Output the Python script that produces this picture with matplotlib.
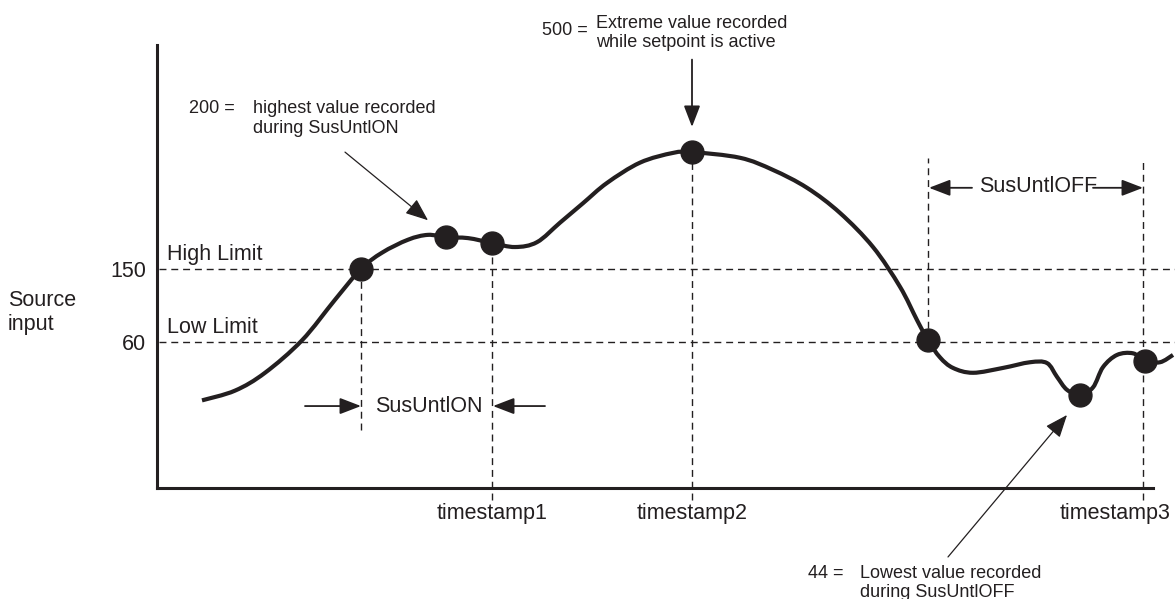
import numpy as np
import matplotlib
matplotlib.use('Agg')
import matplotlib.pyplot as plt
from matplotlib.path import Path
from matplotlib.patches import PathPatch
from matplotlib.transforms import ScaledTranslation

plt.rcParams['font.family'] = ['Liberation Sans', 'DejaVu Sans']

INK = '#231f20'
BIG = 15.5
SMALL = 13

# source input trace (time, value)
curve_t = [202, 235, 265, 302, 335, 361, 382, 408, 428, 446, 468, 492,
           515, 537, 560, 583, 607, 640, 673, 692, 740, 773, 807, 840, 873,
           900, 917, 928, 940, 953, 973, 1003, 1030, 1047, 1057, 1067, 1080, 1093,
           1103, 1117, 1133, 1145, 1160, 1173]
curve_v = [-12, 0, 22, 62, 112, 150, 170, 186, 192, 189, 188, 182,
           177, 183, 207, 231, 256, 281, 293, 294, 287, 272, 250, 219, 177,
           128, 87, 62, 41, 28, 22, 28, 35, 34, 17, 1, -5, 4,
           29, 44, 46, 37, 35, 44]

# recorded points
dot_t = [361, 446, 492, 692, 928, 1080, 1145]
dot_v = [150, 189, 182, 294, 62, -5, 37]

# limits
limit_v = [150, 60]
limit_names = ['High Limit', 'Low Limit']

# vertical markers
vline_t = [361, 492, 692, 928, 1143]
vline_lo = [-48, -135, -135, 62, -135]
vline_hi = [150, 182, 294, 287, 287]

stamp_t = [492, 692, 1143]
stamp_names = ['timestamp1', 'timestamp2', 'timestamp3']

fig = plt.figure(figsize=(11.75, 5.99), dpi=100)
ax = fig.add_axes([157 / 1175, 111 / 599, 1018 / 1175, 443 / 599])
ax.set_xlim(157, 1175)
ax.set_ylim(-120, 426)

for s in ['top', 'right']:
    ax.spines[s].set_visible(False)
for s in ['left', 'bottom']:
    ax.spines[s].set_linewidth(2.2)
    ax.spines[s].set_color(INK)
ax.spines['bottom'].set_bounds(157, 1153)

ax.set_yticks(limit_v)
ax.set_yticklabels([str(v) for v in limit_v])
ax.set_xticks(stamp_t)
ax.set_xticklabels(stamp_names)
ax.tick_params(length=0, labelsize=BIG, labelcolor=INK)
ax.tick_params(axis='y', pad=8)
ax.tick_params(axis='x', pad=11)
lbl = ax.get_xticklabels()[2]
lbl.set_transform(lbl.get_transform() + ScaledTranslation(-0.28, 0, fig.dpi_scale_trans))

# dashed guides
dash = dict(color=INK, lw=1.0, linestyle=(0, (5, 3.5)))
ax.hlines(limit_v, 159, 1175, clip_on=False, **dash)
ax.vlines(vline_t, vline_lo, vline_hi, clip_on=False, **dash)

for v, name in zip(limit_v, limit_names):
    ax.text(167, v + 11, name, fontsize=BIG, color=INK, va='baseline')

# smooth curve through the read points (catmull-rom as bezier segments)
P = np.column_stack([curve_t, curve_v]).astype(float)
verts = [P[0]]
codes = [Path.MOVETO]
for i in range(len(P) - 1):
    p0 = P[i - 1] if i > 0 else P[i]
    p1 = P[i]
    p2 = P[i + 1]
    p3 = P[i + 2] if i + 2 < len(P) else P[i + 1]
    verts += [p1 + (p2 - p0) / 6, p2 - (p3 - p1) / 6, p2]
    codes += [Path.CURVE4] * 3
ax.add_patch(PathPatch(Path(verts, codes), fill=False, lw=3.0, ec=INK,
                       capstyle='butt', joinstyle='round', clip_on=False, zorder=3))
ax.plot(dot_t, dot_v, 'o', ms=16.5, color=INK, zorder=4, clip_on=False)

# axis title
ax.text(8, 104, 'Source', fontsize=BIG, color=INK, va='baseline')
ax.text(8, 75, 'input', fontsize=BIG, color=INK, va='baseline')

big_arrow = dict(arrowstyle='-|>,head_length=0.65,head_width=0.25', color=INK,
                 lw=1.3, mutation_scale=20, shrinkA=0, shrinkB=0)
thin_arrow = dict(arrowstyle='-|>,head_length=0.7,head_width=0.28', color=INK,
                  lw=0.9, mutation_scale=20, shrinkA=0, shrinkB=0)

# SusUntlON window
ax.annotate('', xy=(361, -19), xytext=(305, -19), arrowprops=big_arrow, annotation_clip=False)
ax.annotate('', xy=(493, -19), xytext=(545, -19), arrowprops=big_arrow, annotation_clip=False)
ax.text(375, -20, 'SusUntlON', fontsize=BIG, color=INK, va='center')

# SusUntlOFF window
ax.annotate('', xy=(929, 250), xytext=(972, 250), arrowprops=big_arrow, annotation_clip=False)
ax.annotate('', xy=(1143, 250), xytext=(1093, 250), arrowprops=big_arrow, annotation_clip=False)
ax.text(979, 251, 'SusUntlOFF', fontsize=BIG, color=INK, va='center')

# notes
ax.text(189, 342, '200 =', fontsize=SMALL, color=INK, va='baseline')
ax.text(253, 342, 'highest value recorded', fontsize=SMALL, color=INK, va='baseline')
ax.text(253, 318, 'during SusUntlON', fontsize=SMALL, color=INK, va='baseline')
ax.annotate('', xy=(428, 210), xytext=(345, 294), arrowprops=thin_arrow, annotation_clip=False)

ax.text(542, 438, '500 =', fontsize=SMALL, color=INK, va='baseline')
ax.text(596, 447, 'Extreme value recorded', fontsize=SMALL, color=INK, va='baseline')
ax.text(596, 424, 'while setpoint is active', fontsize=SMALL, color=INK, va='baseline')
ax.annotate('', xy=(692, 325), xytext=(692, 408), arrowprops=big_arrow, annotation_clip=False)

ax.text(808, -231, '44 =', fontsize=SMALL, color=INK, va='baseline')
ax.text(860, -231, 'Lowest value recorded', fontsize=SMALL, color=INK, va='baseline')
ax.text(860, -254, 'during SusUntlOFF', fontsize=SMALL, color=INK, va='baseline')
ax.annotate('', xy=(1067, -30), xytext=(948, -205), arrowprops=thin_arrow, annotation_clip=False)

fig.savefig('out.png', dpi=100)
